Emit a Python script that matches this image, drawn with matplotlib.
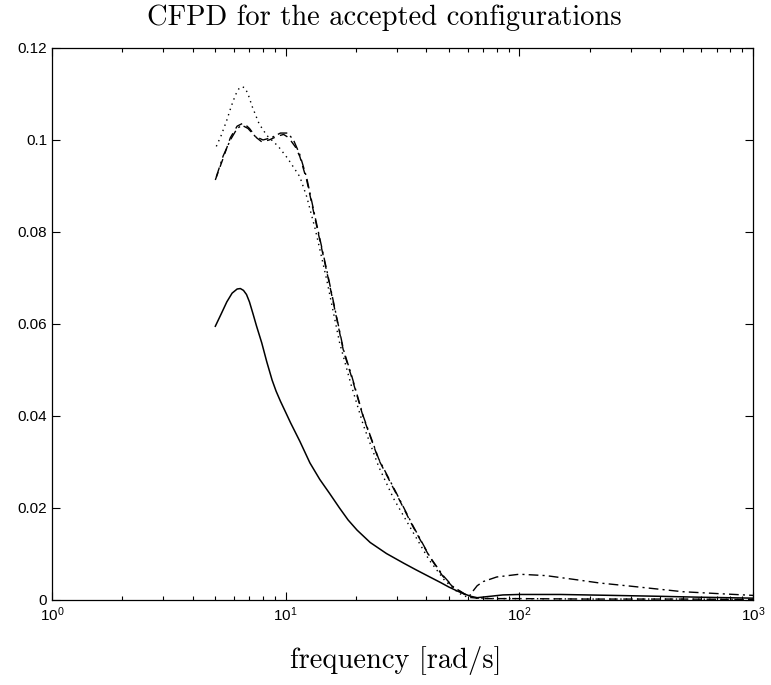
import matplotlib
matplotlib.use("Agg")
import matplotlib.pyplot as plt
from matplotlib.ticker import LogLocator, NullFormatter, FixedLocator, FixedFormatter

# values (frequency in rad/s, CFPD value)
f_solid = [5.0, 5.3, 5.6, 5.9, 6.2, 6.4, 6.6, 6.8, 7.0, 7.25, 7.5, 7.9, 8.3, 8.75, 9.1, 9.5,
           10.0, 10.5, 11.5, 12.7, 14, 15.4, 17, 18.5, 20.2, 23, 27, 32, 36, 41.4, 46, 50,
           54, 57.5, 62, 66, 75, 85, 100, 150, 250, 400, 600, 1000]
v_solid = [0.0595, 0.0622, 0.0648, 0.0667, 0.0676, 0.0677, 0.0673, 0.0664, 0.0648, 0.0622,
           0.0596, 0.0559, 0.0518, 0.0478, 0.0454, 0.0432, 0.0408, 0.0385, 0.0345, 0.0298,
           0.0262, 0.0232, 0.0200, 0.0174, 0.0152, 0.0125, 0.0101, 0.0080, 0.0066, 0.0050,
           0.0038, 0.0028, 0.0020, 0.0014, 0.0008, 0.0005, 0.0008, 0.0011, 0.0012, 0.0012,
           0.0010, 0.0008, 0.0006, 0.0004]

f_dot = [5.05, 5.3, 5.6, 5.85, 6.1, 6.3, 6.5, 6.7, 6.9, 7.2, 7.7, 8.3, 9.3, 10.2, 11.5, 12.3,
         13.4, 15, 17, 19, 21.5, 25, 29, 35, 41, 48, 55, 60, 65, 80, 100, 200, 500, 1000]
v_dot = [0.0986, 0.1010, 0.1043, 0.1073, 0.1098, 0.1111, 0.1116, 0.1113, 0.1100, 0.1072,
         0.1035, 0.1010, 0.0986, 0.0960, 0.0920, 0.0877, 0.0805, 0.0695, 0.0560, 0.0470,
         0.0380, 0.0290, 0.0220, 0.0148, 0.0088, 0.0042, 0.0015, 0.0006, 0.0004, 0.0003,
         0.0003, 0.0002, 0.0002, 0.0001]

f_dash = [5.0, 5.4, 5.8, 6.2, 6.6, 7.0, 7.5, 7.9, 8.5, 9.2, 9.8, 10.3, 11, 11.5, 12.3, 13.4,
          15.2, 17.7, 19.2, 21.5, 25, 29.8, 35, 41.4, 47, 52, 59.3, 63, 70, 100, 200, 500, 1000]
v_dash = [0.0913, 0.0960, 0.1005, 0.1030, 0.1037, 0.1025, 0.1005, 0.0996, 0.1000, 0.1008,
          0.1012, 0.1005, 0.0985, 0.0964, 0.0913, 0.0826, 0.0700, 0.0540, 0.0483, 0.0397,
          0.0305, 0.0230, 0.0160, 0.0093, 0.0052, 0.0028, 0.0010, 0.0005, 0.0003, 0.0003,
          0.0002, 0.0002, 0.0001]

f_dashdot = [5.05, 5.4, 5.8, 6.2, 6.5, 6.9, 7.4, 8.0, 8.7, 9.5, 10.2, 10.8, 11.5, 12.3, 13.4,
             15.2, 17.7, 19.2, 21.5, 25, 29.8, 35, 41.4, 47, 52, 59.3, 61, 63, 66, 70, 80,
             100, 130, 170, 220, 300, 500, 700, 1000]
v_dashdot = [0.0920, 0.0965, 0.1000, 0.1025, 0.1032, 0.1025, 0.1008, 0.1000, 0.1005, 0.1015,
             0.1015, 0.1000, 0.0968, 0.0918, 0.0830, 0.0703, 0.0543, 0.0486, 0.0399, 0.0307,
             0.0232, 0.0162, 0.0094, 0.0054, 0.0029, 0.0011, 0.0008, 0.0018, 0.0031, 0.0040,
             0.0050, 0.0056, 0.0053, 0.0045, 0.0037, 0.0030, 0.0018, 0.0014, 0.0010]

yticks = [0, 0.02, 0.04, 0.06, 0.08, 0.1, 0.12]
ytick_labels = ["0", "0.02", "0.04", "0.06", "0.08", "0.1", "0.12"]

plt.rcParams['font.family'] = ['Liberation Sans', 'DejaVu Sans']
plt.rcParams['mathtext.fontset'] = 'custom'
plt.rcParams['mathtext.rm'] = 'Liberation Sans'
plt.rcParams['mathtext.it'] = 'Liberation Sans'

fig = plt.figure(figsize=(7.71, 6.85), dpi=100)
ax = fig.add_axes([0.0674, 0.1241, 0.9093, 0.8059])

ax.plot(f_solid, v_solid, color='black', linestyle='-', linewidth=1.1)
ax.plot(f_dot, v_dot, color='black', linestyle=(0, (1, 3)), linewidth=1.0)
ax.plot(f_dash, v_dash, color='black', linestyle=(0, (6, 4)), linewidth=1.0)
ax.plot(f_dashdot, v_dashdot, color='black', linestyle=(0, (7, 3, 1.5, 3)), linewidth=1.0)

ax.set_xscale('log')
ax.set_xlim(1, 1000)
ax.set_ylim(0, 0.12)
ax.xaxis.set_major_locator(LogLocator(base=10, numticks=10))
ax.xaxis.set_minor_locator(LogLocator(base=10, subs=range(2, 10), numticks=20))
ax.xaxis.set_minor_formatter(NullFormatter())
ax.yaxis.set_major_locator(FixedLocator(yticks))
ax.yaxis.set_major_formatter(FixedFormatter(ytick_labels))

ax.tick_params(which='both', direction='in', top=True, right=True, labelsize=11, width=0.8)
ax.tick_params(which='major', length=6)
ax.tick_params(which='minor', length=3)
ax.tick_params(axis='x', pad=4)
for s in ax.spines.values():
    s.set_linewidth(0.9)

ax.set_title("CFPD for the accepted configurations", fontfamily='cmr10', fontsize=20.5,
             x=0.474, y=1.027, va='baseline')
ax.set_xlabel("frequency [rad/s]", fontfamily='cmr10', fontsize=20.5, va='baseline')
ax.xaxis.set_label_coords(0.49, -0.123)

fig.savefig("out.png", dpi=100)
